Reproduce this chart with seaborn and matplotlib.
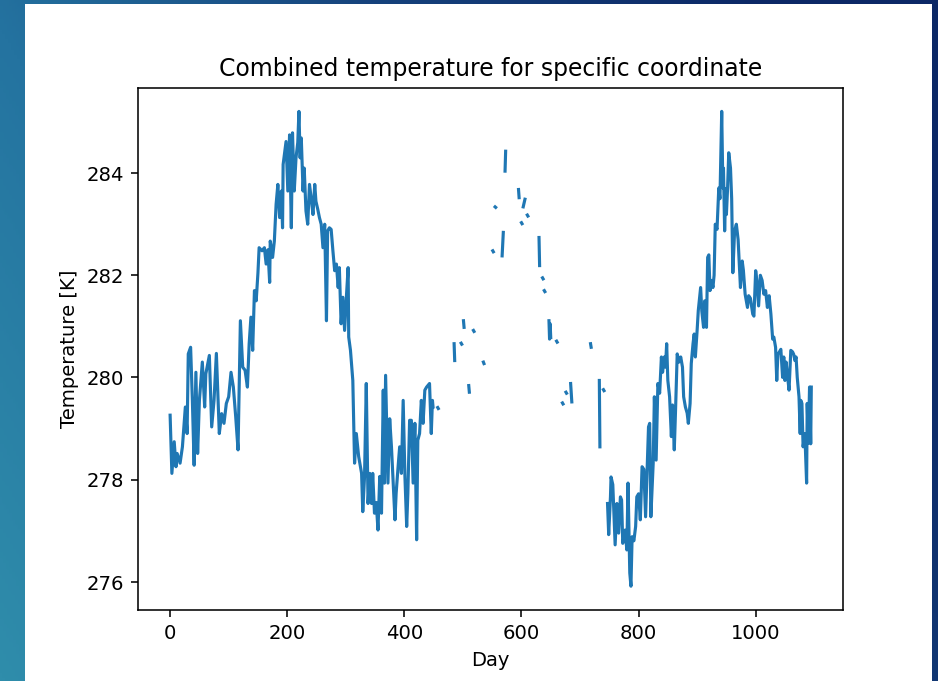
import numpy as np
import pandas as pd
import matplotlib
matplotlib.use("Agg")
import matplotlib.pyplot as plt
import seaborn as sns
from matplotlib.patches import Rectangle
from matplotlib.colors import LinearSegmentedColormap

nan = np.nan

# ---- data -----------------------------------------------------------------
first_days = [0, 3, 7, 10, 12, 17, 21, 26, 29, 31, 35, 38, 41, 44, 47, 50, 55, 59, 61, 67,
              71, 75, 79, 84, 88, 92, 96, 100, 104, 108, 112, 116, 120, 124, 128, 132, 135,
              138, 141, 144, 147, 150, 152, 157, 161, 164, 167, 170, 171, 175, 178, 181, 184,
              187, 190, 192, 193, 198, 201, 204, 207, 209, 212, 215, 218, 220, 222, 224, 227,
              229, 232, 235, 238, 241, 244, 247, 249, 252, 255, 258, 261, 264, 267, 269, 272,
              275, 278, 281, 284, 287, 289, 292, 295, 298, 301, 304, 305, 308, 312, 315, 318,
              322, 327, 329, 332, 335, 338, 341, 344, 346, 349, 352, 355, 358, 361, 364, 366,
              368, 372, 375, 378, 381, 384, 386, 389, 392, 395, 398, 401, 404, 406, 409, 412,
              415, 418, 421, 423, 426, 429, 432, 435, 438, 441, 443, 446, 448, 449]
first_temps = [279.26, 278.12, 278.74, 278.25, 278.51, 278.32, 278.64, 279.42, 278.90, 280.46,
               280.59, 279.55, 278.28, 280.10, 278.51, 279.55, 280.30, 279.42, 280.07, 280.43,
               279.03, 279.55, 280.47, 278.90, 279.29, 279.10, 279.49, 279.62, 280.10, 279.81,
               279.23, 278.58, 281.11, 280.20, 280.14, 279.81, 280.66, 281.18, 280.53, 281.70,
               281.50, 282.05, 282.54, 282.48, 282.54, 282.22, 282.50, 281.86, 282.67, 282.35,
               282.67, 283.39, 283.78, 283.13, 283.65, 282.93, 284.17, 284.62, 283.65, 284.75,
               282.93, 284.79, 283.65, 284.30, 284.60, 285.21, 284.30, 284.69, 283.65, 284.10,
               283.26, 283.00, 283.78, 283.50, 283.19, 283.78, 283.45, 283.30, 283.13, 283.00,
               282.54, 283.00, 281.11, 282.87, 282.93, 282.90, 282.48, 282.09, 282.22, 281.76,
               282.15, 281.05, 281.57, 280.92, 281.57, 282.15, 280.79, 280.53, 279.94, 278.32,
               278.90, 278.45, 278.12, 277.37, 278.05, 279.88, 277.53, 278.12, 277.53, 278.12,
               277.34, 277.55, 277.01, 278.06, 277.34, 279.75, 277.93, 280.04, 277.93, 279.19,
               278.64, 277.93, 277.21, 277.73, 278.20, 278.64, 278.12, 279.55, 278.06, 277.08,
               277.73, 279.16, 279.16, 277.93, 279.10, 276.82, 278.77, 278.90, 279.55, 279.10,
               279.75, 279.81, 279.85, 279.88, 278.90, 279.55, 279.42]

mid_days = [457, 458, nan, 485, 486, nan, 497, 498, nan, 501, 502, nan, 510, 511, nan,
            518, 519, nan, 535, 536, nan, 551, 552, nan, 555, 556, nan, 567, 569, nan,
            572, 573, nan, 595, 596, nan, 600, 601, nan, 603, 606, nan, 610, 611, nan,
            630, 631, nan, 636, 637, nan, 639, 640, nan, 647, 648, 649, 650, nan,
            660, 661, nan, 670, 671, nan, 676, 677, nan, 684, 686, nan, 718, 719, nan,
            733, 734, nan, 740, 741]
mid_temps = [279.41, 279.39, nan, 280.66, 280.33, nan, 280.67, 280.65, nan, 281.11, 280.98, nan,
             279.84, 279.71, nan, 280.92, 280.90, nan, 280.30, 280.27, nan, 282.48, 282.46, nan,
             283.34, 283.33, nan, 282.38, 282.84, nan, 284.04, 284.43, nan, 283.68, 283.52, nan,
             283.03, 283.01, nan, 283.34, 283.49, nan, 283.18, 283.16, nan, 282.74, 282.19, nan,
             281.95, 281.93, nan, 281.70, 281.68, nan, 281.11, 280.75, 281.05, 280.78, nan,
             280.71, 280.69, nan, 279.50, 279.48, nan, 279.71, 279.69, nan, 279.88, 279.52, nan,
             280.66, 280.59, nan, 279.94, 278.64, nan, 279.76, 279.74]

second_days = [747, 749, 752, 753, 756, 760, 763, 766, 769, 771, 773, 777, 780, 782, 785, 787,
               789, 792, 795, 797, 800, 803, 806, 809, 812, 815, 817, 819, 821, 825, 827, 830,
               833, 836, 839, 841, 844, 846, 848, 850, 853, 856, 858, 861, 863, 866, 869, 872,
               875, 877, 880, 883, 885, 888, 890, 893, 895, 897, 900, 902, 906, 908, 911, 913,
               916, 918, 920, 922, 925, 927, 929, 931, 934, 937, 939, 942, 944, 945, 947, 949,
               950, 952, 954, 957, 959, 961, 964, 967, 970, 974, 977, 979, 982, 986, 988, 991,
               995, 997, 1000, 1002, 1005, 1008, 1011, 1014, 1017, 1020, 1023, 1026, 1029, 1031,
               1034, 1036, 1038, 1040, 1043, 1046, 1048, 1050, 1052, 1054, 1057, 1060, 1063, 1065,
               1067, 1069, 1071, 1072, 1074, 1076, 1077, 1079, 1081, 1084, 1087, 1088, 1090, 1092,
               1094, 1095]
second_temps = [277.53, 276.92, 277.66, 278.05, 277.90, 276.72, 277.53, 276.95, 277.66, 277.60,
                276.75, 277.01, 276.62, 277.93, 276.17, 275.91, 276.88, 276.80, 277.08, 277.66,
                277.72, 277.21, 278.25, 278.20, 277.27, 278.32, 279.03, 279.10, 277.27, 278.32,
                279.62, 278.38, 279.88, 279.69, 280.40, 280.10, 280.40, 280.20, 280.66, 279.94,
                279.62, 278.84, 279.46, 278.58, 279.30, 280.46, 280.30, 280.40, 280.20, 279.62,
                279.42, 279.30, 279.10, 279.49, 280.27, 280.66, 280.85, 280.40, 280.92, 281.31,
                281.76, 281.30, 280.98, 281.50, 280.98, 282.35, 282.40, 281.70, 281.90, 281.76,
                282.00, 283.00, 282.90, 283.71, 283.50, 285.21, 283.71, 284.10, 282.87, 283.70,
                283.19, 283.70, 284.40, 284.10, 283.50, 282.05, 282.87, 283.00, 282.70, 281.76,
                282.28, 282.10, 281.63, 281.37, 281.60, 281.55, 281.24, 281.20, 282.09, 281.90,
                281.40, 282.00, 281.90, 281.63, 281.70, 281.37, 281.60, 281.24, 280.75, 280.79,
                280.59, 279.94, 280.46, 280.49, 280.55, 280.00, 280.40, 279.94, 280.30, 280.07,
                279.75, 280.53, 280.50, 280.45, 280.33, 280.40, 280.00, 279.88, 279.62, 278.90,
                279.55, 279.49, 278.64, 278.90, 277.93, 279.49, 278.71, 279.81, 278.70, 279.81]

title_text = "Combined temperature for specific coordinate"
x_label = "Day"
y_label = "Temperature [K]"

# ---- assemble table with segment ids (gaps break the line) ----------------
days = first_days + [nan] + mid_days + [nan] + second_days
temps = first_temps + [nan] + mid_temps + [nan] + second_temps
df = pd.DataFrame({"day": days, "temperature": temps})
df["segment"] = df["temperature"].isna().cumsum()
df = df.dropna().reset_index(drop=True)

# ---- figure ----------------------------------------------------------------
W, H, DPI = 938, 681, 141
fig = plt.figure(figsize=((W + 0.4) / DPI, (H + 0.4) / DPI), dpi=DPI)

bg = fig.add_axes([0, 0, 1, 1])
bg.set_axis_off()
gx, gy = np.meshgrid(np.linspace(0, 1, 300), np.linspace(0, 1, 300))
grad = np.clip(0.8 * gx + 0.35 * gy, 0, 1)   # origin lower: gy=1 is the top
cmap = LinearSegmentedColormap.from_list("bgc", ["#2f8dab", "#2473a0", "#16427c", "#0c2866"])
bg.imshow(grad, cmap=cmap, aspect="auto", extent=[0, 1, 0, 1], origin="lower",
          vmin=0, vmax=1)
bg.set_xlim(0, 1)
bg.set_ylim(0, 1)
bg.add_patch(Rectangle((25 / W, 0), (932 - 25) / W, (H - 4) / H,
                       transform=bg.transAxes, facecolor="white", edgecolor="none", zorder=5))

ax = fig.add_axes([138 / W, (H - 610) / H, (843 - 138) / W, (610 - 88) / H])
sns.lineplot(data=df, x="day", y="temperature", units="segment", estimator=None,
             color="#1f77b4", linewidth=1.6, ax=ax)
ax.set_title(title_text, fontsize=12)
ax.set_xlabel(x_label)
ax.set_ylabel(y_label)
ax.set_xticks([0, 200, 400, 600, 800, 1000])
ax.set_yticks([276, 278, 280, 282, 284])

fig.savefig("out.png", dpi=DPI)
